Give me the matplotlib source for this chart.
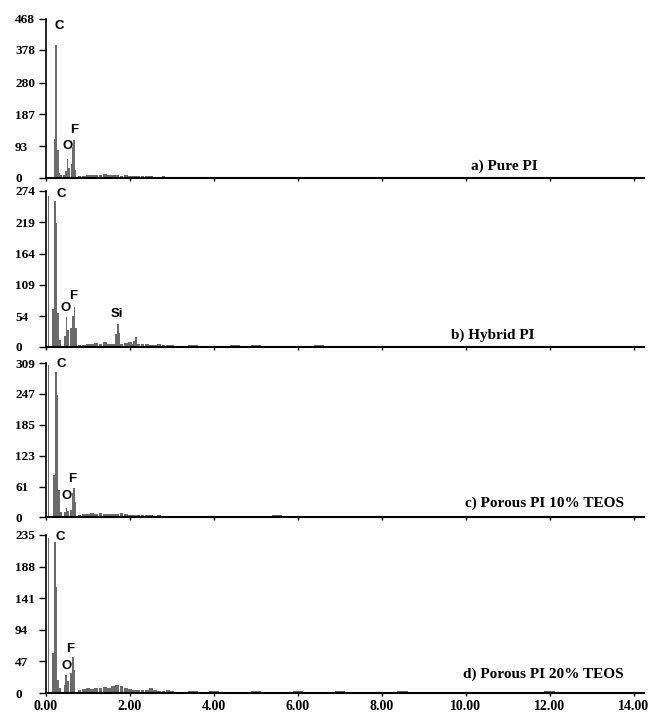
import numpy as np
import matplotlib
matplotlib.use("Agg")
from matplotlib import pyplot as plt

# EDS spectra of the four polyimide films (energy in keV, counts)

# y axis tops and tick labels per panel
ymax = [468, 274, 309, 235]
ytick_labels = [
    ['0', '93', '187', '280', '378', '468'],
    ['0', '54', '109', '164', '219', '274'],
    ['0', '61', '123', '185', '247', '309'],
    ['0', '47', '94', '141', '188', '235'],
]
xticks = [0, 2, 4, 6, 8, 10, 12, 14]
xtick_labels = ['0.00', '2.00', '4.00', '6.00', '8.00', '10.00', '12.00', '14.00']
panel_names = ['a) Pure PI', 'b) Hybrid PI', 'c) Porous PI 10% TEOS', 'd) Porous PI 20% TEOS']

# peak channels (energy, counts)
peak_e_a = [0.20, 0.24, 0.28, 0.32, 0.36, 0.42, 0.47, 0.51, 0.54, 0.61, 0.65, 0.67, 0.70]
peak_c_a = [115, 391, 82, 15, 8, 10, 20, 56, 28, 40, 91, 112, 25]

peak_e_b = [0.06, 0.17, 0.21, 0.25, 0.29, 0.33, 0.45, 0.49, 0.53, 0.60, 0.64, 0.68, 0.72, 1.67, 1.71, 1.75, 2.10, 2.14]
peak_c_b = [266, 67, 257, 218, 60, 12, 20, 52, 30, 33, 55, 71, 33, 22, 40, 25, 10, 18]

peak_e_c = [0.06, 0.19, 0.23, 0.27, 0.31, 0.35, 0.45, 0.49, 0.53, 0.59, 0.63, 0.66, 0.69]
peak_c_c = [305, 84, 290, 244, 54, 10, 10, 19, 12, 15, 48, 58, 30]

peak_e_d = [0.06, 0.17, 0.21, 0.25, 0.29, 0.33, 0.44, 0.48, 0.52, 0.60, 0.64, 0.68]
peak_c_d = [230, 59, 225, 157, 20, 8, 12, 27, 18, 30, 54, 35]

# low energy background, 0.8 - 3.0 keV in 0.1 keV steps
bg_low_e = [0.8, 0.9, 1.0, 1.1, 1.2, 1.3, 1.4, 1.5, 1.6, 1.7, 1.8, 1.9,
            2.0, 2.1, 2.2, 2.3, 2.4, 2.5, 2.6, 2.7, 2.8, 2.9, 3.0]
bg_low_a = [5, 6, 8, 9, 10, 9, 11, 10, 9, 8, 7, 8, 7, 6, 6, 5, 6, 5, 4, 4, 5, 3, 4]
bg_low_b = [3, 4, 5, 6, 7, 6, 9, 6, 5, 8, 6, 7, 8, 6, 5, 6, 5, 4, 4, 5, 4, 3, 3]
bg_low_c = [5, 6, 7, 8, 7, 8, 6, 7, 6, 7, 8, 6, 5, 5, 4, 5, 4, 4, 3, 4, 3, 3, 3]
bg_low_d = [5, 6, 7, 6, 8, 7, 9, 8, 10, 12, 11, 8, 6, 5, 5, 4, 5, 7, 4, 3, 3, 4, 3]

# high energy background, 3.5 - 14.0 keV in 0.5 keV steps
bg_high_e = [3.5, 4.0, 4.5, 5.0, 5.5, 6.0, 6.5, 7.0, 7.5, 8.0, 8.5, 9.0,
             9.5, 10.0, 10.5, 11.0, 11.5, 12.0, 12.5, 13.0, 13.5, 14.0]
bg_high_a = [3, 4, 3, 3, 2, 3, 2, 3, 2, 2, 2, 1, 2, 2, 1, 2, 1, 1, 2, 1, 1, 1]
bg_high_b = [3, 2, 3, 3, 2, 2, 3, 2, 2, 2, 2, 2, 1, 2, 1, 2, 1, 1, 1, 2, 1, 1]
bg_high_c = [3, 3, 2, 3, 4, 3, 2, 2, 2, 3, 2, 2, 2, 1, 2, 1, 2, 2, 1, 1, 2, 1]
bg_high_d = [3, 3, 2, 3, 2, 3, 2, 3, 2, 2, 3, 2, 2, 1, 2, 2, 1, 3, 1, 2, 1, 1]

peaks = [(peak_e_a, peak_c_a), (peak_e_b, peak_c_b), (peak_e_c, peak_c_c), (peak_e_d, peak_c_d)]
bg_low = [bg_low_a, bg_low_b, bg_low_c, bg_low_d]
bg_high = [bg_high_a, bg_high_b, bg_high_c, bg_high_d]

# element labels (text, energy, counts) per panel
elements = [
    [('C', 0.31, 447), ('O', 0.51, 94), ('F', 0.67, 141)],
    [('C', 0.36, 269), ('O', 0.46, 69), ('F', 0.64, 90), ('Si', 1.69, 58)],
    [('C', 0.36, 307), ('O', 0.49, 42), ('F', 0.62, 77)],
    [('C', 0.35, 232), ('O', 0.49, 40), ('F', 0.58, 65)],
]
name_pos = [(10.12, 23), (9.64, 14), (9.98, 20), (9.93, 23)]

# axes boxes in figure fraction [left, bottom, width, height]
boxes = [
    [0.0707, 0.7514, 0.9186, 0.2221],
    [0.0707, 0.5154, 0.9186, 0.2179],
    [0.0707, 0.2779, 0.9186, 0.2151],
    [0.0707, 0.0320, 0.9186, 0.2208],
]

bar_col = '#6b6b6b'
serif = 'Liberation Serif'
sans = 'Liberation Sans'

fig = plt.figure(figsize=(6.51, 7.16), dpi=100)

for i in range(4):
    ax = fig.add_axes(boxes[i])
    pe, pc = peaks[i]
    ax.bar(bg_low_e, bg_low[i], width=0.09, color=bar_col, linewidth=0)
    ax.bar(bg_high_e, bg_high[i], width=0.25, color=bar_col, linewidth=0)
    ax.bar(pe, pc, width=0.042, color=bar_col, linewidth=0)

    ax.set_xlim(0, 14.25)
    ax.set_ylim(0, ymax[i])
    for s in ['top', 'right']:
        ax.spines[s].set_visible(False)
    ax.spines['left'].set_linewidth(1.2)
    ax.spines['bottom'].set_linewidth(1.5)

    yt = [float(v) for v in ytick_labels[i]]
    ax.set_yticks(yt)
    ax.set_yticklabels(ytick_labels[i], fontfamily=serif, fontweight='bold', fontsize=9.5)
    ax.tick_params(axis='y', direction='out', length=5, width=1, pad=17.3)
    for lab in ax.get_yticklabels():
        lab.set_horizontalalignment('left')

    ax.set_xticks(xticks)
    ax.tick_params(axis='x', direction='out', length=2.2, width=1, pad=3)
    if i == 3:
        ax.set_xticklabels(xtick_labels, fontfamily=serif, fontweight='bold', fontsize=10)
    else:
        ax.set_xticklabels([])

    for txt, ex, cy in elements[i]:
        ax.text(ex, cy, txt, ha='center', va='center', fontfamily=sans,
                fontweight='bold', fontsize=9.5, color='black')
    nx, ny = name_pos[i]
    ax.text(nx, ny, panel_names[i], ha='left', va='baseline', fontfamily=serif,
            fontweight='bold', fontsize=11, color='black')

fig.savefig('out.png', dpi=100)
